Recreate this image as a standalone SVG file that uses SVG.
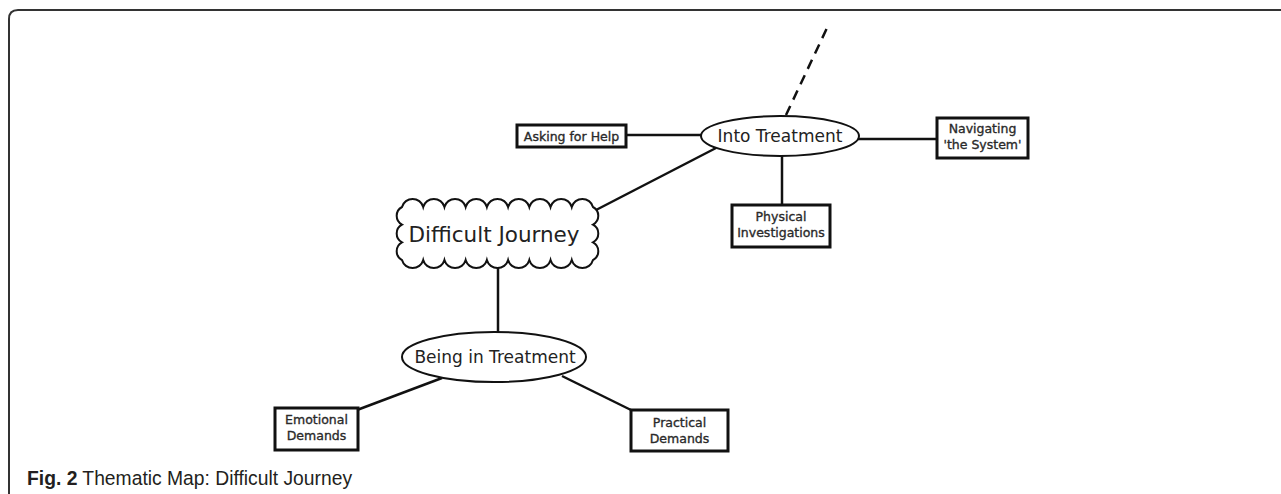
<svg xmlns="http://www.w3.org/2000/svg" width="1281" height="494" viewBox="0 0 1281 494">
<style>
  .frame { fill: none; stroke: #333; stroke-width: 2; }
  .link { fill: none; stroke: #111; stroke-width: 2.5; }
  .dash { fill: none; stroke: #111; stroke-width: 2.5; stroke-dasharray: 10 7; }
  .box { fill: #fff; stroke: #111; stroke-width: 3; }
  .oval { fill: #fff; stroke: #111; stroke-width: 2; }
  .small { font-family: "DejaVu Sans", Verdana, sans-serif; font-size: 12.5px; fill: #2a2a2a; stroke: #2a2a2a; stroke-width: 0.35; text-anchor: middle; }
  .mid { font-family: "DejaVu Sans", Verdana, sans-serif; font-size: 17px; fill: #222; text-anchor: middle; }
  .big { font-family: "DejaVu Sans", Verdana, sans-serif; font-size: 21.5px; fill: #222; text-anchor: middle; }
  .cap { font-family: "Liberation Sans", Arial, sans-serif; font-size: 19.3px; fill: #231f20; }
</style>
<rect x="0" y="0" width="1281" height="494" fill="#fff"/>
<path class="frame" d="M 1281 10 L 18 10 Q 9 10 9 19 L 9 494"/>
<g id="connectors">
  <line class="dash" x1="786" y1="115" x2="827" y2="28"/>
  <line class="link" x1="626" y1="135" x2="702" y2="135"/>
  <line class="link" x1="858" y1="139" x2="937" y2="139"/>
  <line class="link" x1="782" y1="156" x2="782" y2="205"/>
  <line class="link" x1="596" y1="210" x2="716" y2="148"/>
  <line class="link" x1="498" y1="267" x2="498" y2="332"/>
  <line class="link" x1="442" y1="378" x2="357" y2="410"/>
  <line class="link" x1="562" y1="376" x2="631" y2="410"/>
</g>
<g id="into-treatment">
  <ellipse class="oval" cx="780" cy="136" rx="79" ry="20"/>
  <text class="mid" x="780" y="142">Into Treatment</text>
</g>
<g id="asking-for-help">
  <rect class="box" x="517" y="125" width="109" height="22"/>
  <text class="small" x="571.5" y="141">Asking for Help</text>
</g>
<g id="navigating">
  <rect class="box" x="937" y="118" width="91" height="40"/>
  <text class="small" x="982.5" y="133">Navigating</text>
  <text class="small" x="982.5" y="149">'the System'</text>
</g>
<g id="physical-investigations">
  <rect class="box" x="732" y="205" width="98" height="42"/>
  <text class="small" x="781" y="221">Physical</text>
  <text class="small" x="781" y="237">Investigations</text>
</g>
<g id="difficult-journey">
  <path class="oval" d="M 402 207 a 11 11 0 0 1 21.22 0 a 11 11 0 0 1 21.22 0 a 11 11 0 0 1 21.22 0 a 11 11 0 0 1 21.22 0 a 11 11 0 0 1 21.22 0 a 11 11 0 0 1 21.22 0 a 11 11 0 0 1 21.22 0 a 11 11 0 0 1 21.22 0 a 11 11 0 0 1 21.22 0 a 10 10 0 0 1 0 17.67 a 10 10 0 0 1 0 17.67 a 10 10 0 0 1 0 17.67 a 11 11 0 0 1 -21.22 0 a 11 11 0 0 1 -21.22 0 a 11 11 0 0 1 -21.22 0 a 11 11 0 0 1 -21.22 0 a 11 11 0 0 1 -21.22 0 a 11 11 0 0 1 -21.22 0 a 11 11 0 0 1 -21.22 0 a 11 11 0 0 1 -21.22 0 a 11 11 0 0 1 -21.22 0 a 10 10 0 0 1 0 -17.67 a 10 10 0 0 1 0 -17.67 a 10 10 0 0 1 0 -17.67 Z"/>
  <text class="big" x="494" y="242">Difficult Journey</text>
</g>
<g id="being-in-treatment">
  <ellipse class="oval" cx="494" cy="357" rx="92" ry="25"/>
  <text class="mid" x="495" y="363">Being in Treatment</text>
</g>
<g id="emotional-demands">
  <rect class="box" x="275" y="408" width="83" height="42"/>
  <text class="small" x="316.5" y="424">Emotional</text>
  <text class="small" x="316.5" y="440">Demands</text>
</g>
<g id="practical-demands">
  <rect class="box" x="631" y="410" width="97" height="41"/>
  <text class="small" x="679.5" y="427">Practical</text>
  <text class="small" x="679.5" y="443">Demands</text>
</g>
<text class="cap" x="27" y="485"><tspan font-weight="bold">Fig. 2</tspan> Thematic Map: Difficult Journey</text>
</svg>
